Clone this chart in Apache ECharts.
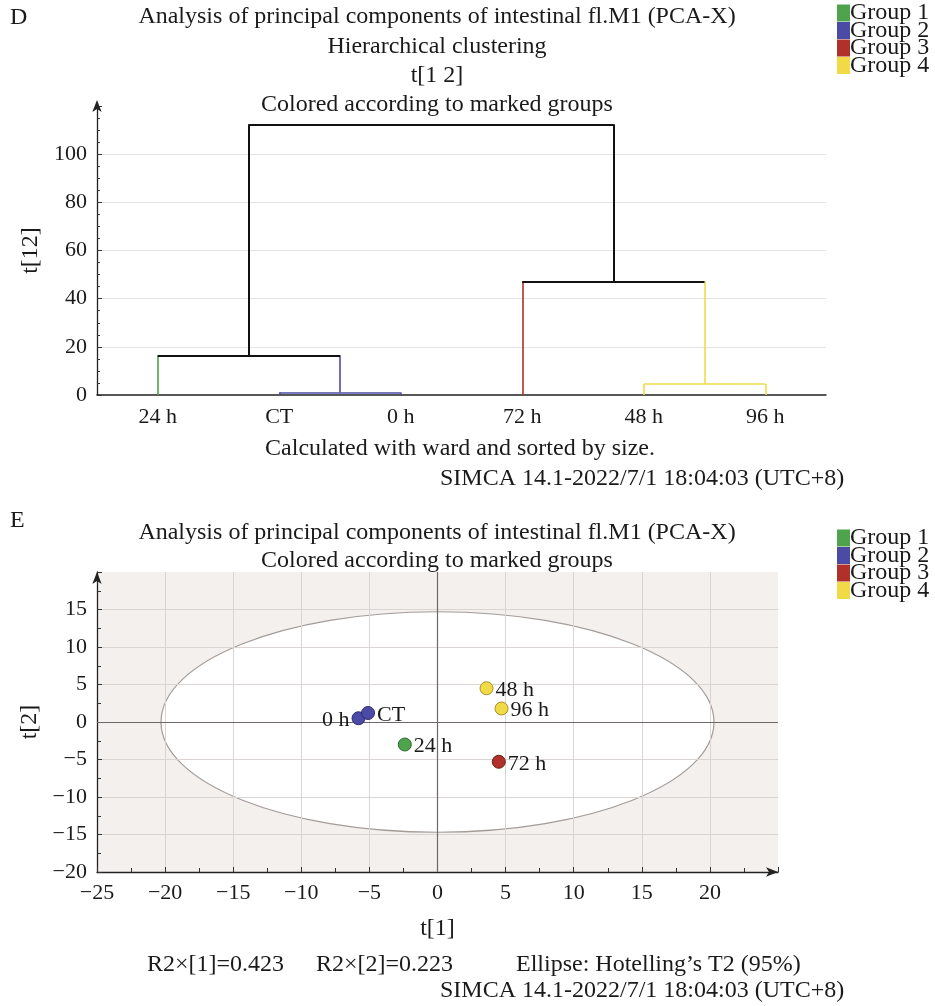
<!DOCTYPE html>
<html>
<head>
<meta charset="utf-8">
<script src="https://cdn.jsdelivr.net/npm/echarts@6/dist/echarts.min.js"></script>
<style>
html, body { margin: 0; padding: 0; background: #fff; }
#main { width: 935px; height: 1006px; }
</style>
</head>
<body>
<div id="main"></div>
<script>
// dendrogram (D)
var leaves = ['24 h', 'CT', '0 h', '72 h', '48 h', '96 h'];
var leafGroup = [0, 1, 1, 2, 3, 3];
// linkage rows: [child a, child b, height]; node (leaves.length + i) is row i
var links = [[1, 2, 1.0], [4, 5, 4.6], [0, 6, 16.5], [3, 7, 47.2], [8, 9, 112.4]];

// score plot (E)
var sampleNames = ['0 h', 'CT', '24 h', '48 h', '96 h', '72 h'];
var sampleGroup = [1, 1, 0, 3, 3, 2];
var t1 = [-5.8, -5.1, -2.4, 3.6, 4.7, 4.5];
var t2 = [0.5, 1.2, -3.0, 4.5, 1.8, -5.3];
var ellipseAxes = [20.3, 14.7];

var groupNames = ['Group 1', 'Group 2', 'Group 3', 'Group 4'];
var groupColors = ['#4ea34c', '#4b4ba6', '#b0302a', '#f0db46'];
var groupBorders = ['#2e6a2d', '#2c2c70', '#6d1a15', '#a8922c'];

var serif = "'Liberation Serif', 'Times New Roman', serif";
var ink = '#1a1a1a';

var dom = document.getElementById('main');
var myChart = echarts.init(dom);

// build dendrogram segments from the linkage
var nodeX = leaves.map(function (d, i) { return i + 0.5; });
var nodeH = leaves.map(function () { return 0; });
var nodeG = leafGroup.slice();
var segs = [[], [], [], [], []]; // index 4 = mixed (black)
function gi(g) { return g < 0 ? 4 : g; }
links.forEach(function (l) {
  var a = l[0], b = l[1], h = l[2];
  var g = nodeG[a] === nodeG[b] ? nodeG[a] : -1;
  segs[gi(nodeG[a])].push({ coords: [[nodeX[a], nodeH[a]], [nodeX[a], h]] });
  segs[gi(nodeG[b])].push({ coords: [[nodeX[b], nodeH[b]], [nodeX[b], h]] });
  segs[gi(g)].push({ coords: [[nodeX[a], h], [nodeX[b], h]] });
  nodeX.push((nodeX[a] + nodeX[b]) / 2);
  nodeH.push(h);
  nodeG.push(g);
});

function txt(x, y, s, align) {
  return {
    type: 'text', x: x, y: y, silent: true,
    style: { text: s, fill: ink, font: '24px ' + serif, textAlign: align || 'center', textVerticalAlign: 'middle' }
  };
}

function minus(v) { return String(v).replace('-', '\u2212'); }

var legendData = groupNames.map(function (n, i) {
  return { name: n, itemStyle: { color: groupColors[i] } };
});
var legendBase = {
  left: 837, orient: 'vertical', itemGap: -6.5, itemWidth: 11, itemHeight: 15,
  icon: 'rect', padding: 0, selectedMode: false,
  textStyle: { fontFamily: serif, fontSize: 24, lineHeight: 24, color: ink, padding: [0, 0, 0, -4] },
  data: legendData
};

var series = [];
segs.forEach(function (s, k) {
  series.push({
    name: k < 4 ? groupNames[k] : 'link',
    type: 'lines',
    coordinateSystem: 'cartesian2d',
    xAxisIndex: 1,
    yAxisIndex: 0,
    silent: true,
    lineStyle: { color: k < 4 ? groupColors[k] : '#111', width: k < 4 ? 1.6 : 2, opacity: 1 },
    data: s
  });
});

series.push({
  type: 'custom',
  xAxisIndex: 2,
  yAxisIndex: 1,
  z: 1,
  silent: true,
  data: [ellipseAxes],
  renderItem: function (params, api) {
    var c = api.coord([0, 0]);
    var s = api.size([api.value(0), api.value(1)]);
    return {
      type: 'ellipse',
      shape: { cx: c[0], cy: c[1], rx: s[0], ry: s[1] },
      style: { fill: '#fff', stroke: '#a39c99', lineWidth: 1.2 }
    };
  }
});

series.push({
  type: 'line',
  xAxisIndex: 2,
  yAxisIndex: 1,
  z: 5,
  data: [],
  showSymbol: false,
  markLine: {
    silent: true,
    symbol: 'none',
    label: { show: false },
    lineStyle: { color: '#6e6866', width: 1.2, type: 'solid' },
    data: [{ xAxis: 0 }, { yAxis: 0 }]
  }
});

groupNames.forEach(function (n, g) {
  var pts = [];
  sampleNames.forEach(function (s, i) {
    if (sampleGroup[i] === g) {
      pts.push({
        value: [t1[i], t2[i]], name: s,
        label: { position: s === '0 h' ? 'left' : 'right', offset: [0, 2] }
      });
    }
  });
  series.push({
    name: n,
    type: 'scatter',
    xAxisIndex: 2,
    yAxisIndex: 1,
    z: 10,
    symbolSize: 13,
    itemStyle: { color: groupColors[g], borderColor: groupBorders[g], borderWidth: 1, opacity: 1 },
    label: {
      show: true, formatter: '{b}', distance: 2,
      fontFamily: serif, fontSize: 22, color: ink
    },
    data: pts
  });
});

option = {
  animation: false,
  backgroundColor: '#fff',
  textStyle: { fontFamily: serif },
  legend: [
    Object.assign({}, legendBase, { top: 1 }),
    Object.assign({}, legendBase, { top: 526 })
  ],
  grid: [
    { left: 97, right: 109, top: 106, bottom: 611 },
    { left: 97, right: 157, top: 572, bottom: 134, show: true, backgroundColor: '#f4f0ee', borderWidth: 0 }
  ],
  xAxis: [
    {
      type: 'category', gridIndex: 0, data: leaves, boundaryGap: true,
      axisLine: { lineStyle: { color: '#222', width: 1.5 } },
      axisTick: { show: false },
      axisLabel: { fontFamily: serif, fontSize: 22, color: ink, margin: 11 }
    },
    { type: 'value', gridIndex: 0, min: 0, max: leaves.length, show: false, position: 'top' },
    {
      type: 'value', gridIndex: 1, min: -25, max: 25, interval: 5, z: 3,
      name: 't[1]', nameLocation: 'middle', nameGap: 45,
      nameTextStyle: { fontFamily: serif, fontSize: 24, color: ink },
      axisLine: { onZero: false, symbol: ['none', 'arrow'], symbolSize: [7, 12], lineStyle: { color: '#222', width: 1.3 } },
      axisTick: { inside: true, length: 5, lineStyle: { color: '#333' } },
      minorTick: { show: true, splitNumber: 2, length: 4, lineStyle: { color: '#333' } },
      splitLine: { show: true, showMaxLine: false, lineStyle: { color: '#dad5d3', width: 1 } },
      axisLabel: { fontFamily: serif, fontSize: 22, color: ink, margin: 10, showMaxLabel: false, formatter: minus }
    }
  ],
  yAxis: [
    {
      type: 'value', gridIndex: 0, min: 0, max: 120, interval: 20,
      name: 't[12]', nameLocation: 'middle', nameGap: 48, nameRotate: 90,
      nameTextStyle: { fontFamily: serif, fontSize: 24, color: ink },
      axisLine: { show: true, symbol: ['none', 'arrow'], symbolSize: [7, 12], symbolOffset: [0, 6], lineStyle: { color: '#222', width: 1.3 } },
      axisTick: { show: true, inside: true, length: 5, lineStyle: { color: '#333' } },
      minorTick: { show: true, splitNumber: 4, length: 3, lineStyle: { color: '#333' } },
      splitLine: { show: true, showMaxLine: false, showMinLine: false, lineStyle: { color: '#e4e4e4', width: 1.2 } },
      axisLabel: { fontFamily: serif, fontSize: 22, color: ink, margin: 10, showMaxLabel: false }
    },
    {
      type: 'value', gridIndex: 1, min: -20, max: 20, interval: 5, z: 3,
      name: 't[2]', nameLocation: 'middle', nameGap: 48, nameRotate: 90,
      nameTextStyle: { fontFamily: serif, fontSize: 24, color: ink },
      axisLine: { show: true, onZero: false, symbol: ['none', 'arrow'], symbolSize: [7, 12], lineStyle: { color: '#222', width: 1.3 } },
      axisTick: { show: true, inside: true, length: 5, lineStyle: { color: '#333' } },
      minorTick: { show: true, splitNumber: 2, length: 4, lineStyle: { color: '#333' } },
      splitLine: { show: true, showMaxLine: false, lineStyle: { color: '#dad5d3', width: 1 } },
      axisLabel: { fontFamily: serif, fontSize: 22, color: ink, margin: 10, showMaxLabel: false, formatter: minus }
    }
  ],
  graphic: [
    txt(10, 18, 'D', 'left'),
    txt(437, 17, 'Analysis of principal components of intestinal fl.M1 (PCA-X)'),
    txt(437, 47, 'Hierarchical clustering'),
    txt(437, 76, 't[1 2]'),
    txt(437, 105, 'Colored according to marked groups'),
    txt(460, 449, 'Calculated with ward and sorted by size.'),
    txt(440, 479, 'SIMCA 14.1-2022/7/1 18:04:03 (UTC+8)', 'left'),
    txt(10, 521, 'E', 'left'),
    txt(437, 533, 'Analysis of principal components of intestinal fl.M1 (PCA-X)'),
    txt(437, 561, 'Colored according to marked groups'),
    txt(147, 965, 'R2\u00d7[1]=0.423', 'left'),
    txt(316, 965, 'R2\u00d7[2]=0.223', 'left'),
    txt(516, 965, 'Ellipse: Hotelling\u2019s T2 (95%)', 'left'),
    txt(440, 991, 'SIMCA 14.1-2022/7/1 18:04:03 (UTC+8)', 'left')
  ],
  series: series
};

myChart.setOption(option);
</script>
</body>
</html>
